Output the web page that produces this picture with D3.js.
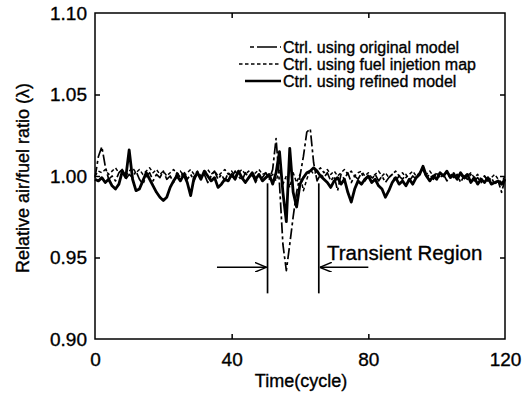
<!DOCTYPE html>
<html>
<head>
<meta charset="utf-8">
<script src="https://cdn.jsdelivr.net/npm/d3@7"></script>
<style>
  body { margin: 0; background: #fff; }
  svg { display: block; font-family: "Liberation Sans", Arial, sans-serif; }
  text { stroke: #000; stroke-width: 0.35; }
</style>
</head>
<body>
<svg id="chart" width="523" height="398"></svg>
<script>
// lambda per engine cycle, 0..120
const refined = [
  0.998, 0.997, 0.999, 0.996, 0.998, 0.994, 0.992, 0.995, 1.003, 0.999,
  1.016, 0.998, 0.991, 0.992, 0.997, 1.002, 0.998, 0.994, 0.990, 0.987,
  0.985, 0.987, 0.993, 0.997, 1.000, 0.997, 1.001, 0.996, 0.988, 0.999,
  1.002, 0.998, 1.003, 1.000, 0.997, 0.999, 0.993, 0.995, 0.998, 0.997,
  1.001, 0.998, 1.003, 0.999, 0.996, 0.999, 1.002, 0.998, 1.001, 0.997,
  0.999, 1.001, 0.995, 1.002, 1.015, 0.990, 0.972, 1.017, 0.990, 0.981,
  0.995, 0.999, 1.002, 1.003, 1.005, 1.003, 1.000, 0.998, 0.996, 0.993,
  0.997, 0.999, 0.995, 0.998, 0.990, 0.984, 0.992, 0.997, 0.995, 0.998,
  1.000, 0.996, 0.998, 0.994, 0.992, 0.987, 0.991, 0.996, 0.999, 0.995,
  0.997, 0.994, 0.998, 0.995, 0.999, 1.001, 1.006, 1.000, 0.997, 1.000,
  0.998, 1.002, 1.000, 1.003, 0.999, 1.001, 0.998, 1.002, 0.999, 1.001,
  0.996, 0.999, 0.995, 0.998, 0.996, 0.999, 0.995, 0.996, 0.997, 0.995,
  0.998
];
const original = [
  0.999, 1.012, 1.018, 1.006, 0.998, 1.000, 0.997, 1.002, 1.004, 0.998,
  1.001, 0.999, 1.003, 0.998, 0.995, 1.000, 1.002, 0.997, 1.001, 0.999,
  1.003, 0.998, 1.000, 0.996, 1.002, 0.999, 1.003, 0.998, 1.001, 0.997,
  1.002, 0.999, 1.001, 0.996, 1.000, 1.003, 0.998, 1.001, 0.997, 1.002,
  0.999, 1.003, 1.000, 0.997, 1.002, 0.999, 1.001, 0.996, 1.001, 0.999,
  1.002, 0.998, 1.004, 1.023, 0.995, 0.958, 0.942, 0.958, 0.975, 0.990,
  1.000, 1.012, 1.027, 1.029, 1.008, 0.997, 1.001, 0.999, 1.002, 0.997,
  1.000, 0.991, 1.001, 0.998, 1.002, 0.996, 1.000, 0.998, 1.002, 0.997,
  1.000, 0.998, 1.001, 0.997, 1.000, 0.996, 0.999, 1.001, 0.997, 1.000,
  0.998, 1.001, 0.997, 1.000, 0.998, 1.002, 1.004, 0.999, 1.001, 0.998,
  1.002, 0.999, 1.001, 0.997, 1.002, 0.999, 1.001, 0.996, 1.000, 0.998,
  1.001, 0.997, 0.999, 0.996, 1.000, 0.997, 0.999, 0.995, 0.997, 0.990,
  0.998
];
const fuelMap = [
  1.000, 1.003, 1.002, 1.004, 1.001, 1.003, 1.005, 1.002, 1.004, 1.000,
  1.003, 1.005, 1.002, 1.004, 1.001, 1.003, 1.005, 1.002, 1.004, 1.001,
  1.003, 1.000, 1.002, 1.004, 1.001, 1.003, 1.000, 1.002, 1.004, 1.001,
  1.003, 1.000, 1.002, 1.004, 1.001, 1.003, 1.000, 1.002, 1.004, 1.001,
  1.003, 1.000, 1.002, 1.004, 1.001, 1.003, 1.000, 1.002, 1.004, 1.001,
  1.002, 0.999, 1.001, 0.997, 1.004, 0.995, 1.000, 0.993, 1.002, 0.996,
  1.001, 0.991, 0.998, 1.004, 1.001, 1.003, 1.005, 1.002, 1.004, 1.001,
  1.003, 1.000, 1.002, 1.004, 1.001, 1.003, 1.000, 1.002, 1.003, 1.000,
  1.002, 0.999, 1.001, 1.003, 1.000, 1.002, 0.999, 1.001, 1.003, 1.000,
  1.002, 0.999, 1.001, 1.003, 1.000, 1.002, 1.004, 1.001, 1.003, 1.000,
  1.002, 0.999, 1.001, 1.003, 1.000, 1.002, 0.999, 1.001, 0.998, 1.000,
  1.002, 0.999, 1.001, 0.998, 1.000, 0.997, 0.999, 1.001, 0.998, 0.996,
  1.000
];

const xTicks = [0, 40, 80, 120];
const yTicks = [0.90, 0.95, 1.00, 1.05, 1.10];
const legendLabels = [
  'Ctrl. using original model',
  'Ctrl. using fuel injetion map',
  'Ctrl. using refined model'
];
// transient window: boundary cycles, line extent and arrow level
const transientBounds = [50.5, 65.5];
const transientSpan = [0.9955, 0.928];
const arrowLevel = 0.944;
const arrowTails = [35.7, 80];

const width = 523, height = 398;
const margin = {top: 13, right: 18, bottom: 59, left: 95};

const svg = d3.select('#chart');

const x = d3.scaleLinear()
  .domain([0, 120])
  .range([margin.left, width - margin.right]);

const y = d3.scaleLinear()
  .domain([0.90, 1.10])
  .range([height - margin.bottom, margin.top]);

const series = [
  {values: original, dash: '11,3,3,3', w: 1.7},
  {values: fuelMap, dash: '3.5,2.5', w: 1.5},
  {values: refined, dash: null, w: 2.8}
];

const line = d3.line()
  .x((d, i) => x(i))
  .y(d => y(d));

const plot = svg.append('g');

plot.selectAll('path.series')
  .data(series)
  .enter()
  .append('path')
  .attr('class', 'series')
  .attr('fill', 'none')
  .attr('stroke', '#000')
  .attr('stroke-width', d => d.w)
  .attr('stroke-dasharray', d => d.dash)
  .attr('stroke-linejoin', 'round')
  .attr('d', d => line(d.values));

// frame
svg.append('rect')
  .attr('x', x(0))
  .attr('y', y(1.10))
  .attr('width', x(120) - x(0))
  .attr('height', y(0.90) - y(1.10))
  .attr('fill', 'none')
  .attr('stroke', '#000')
  .attr('stroke-width', 1.5);

// inward tick marks on all four sides
const innerX = [40, 80];
const innerY = [0.95, 1.00, 1.05];
const tickLen = 5;
function marks(g) {
  g.selectAll('.domain').remove();
  g.selectAll('line').attr('stroke-width', 1.5);
}
svg.append('g')
  .attr('transform', `translate(0,${y(0.90)})`)
  .call(d3.axisBottom(x).tickValues(innerX).tickSize(-tickLen).tickFormat(''))
  .call(marks);
svg.append('g')
  .attr('transform', `translate(0,${y(1.10)})`)
  .call(d3.axisTop(x).tickValues(innerX).tickSize(-tickLen).tickFormat(''))
  .call(marks);
svg.append('g')
  .attr('transform', `translate(${x(0)},0)`)
  .call(d3.axisLeft(y).tickValues(innerY).tickSize(-tickLen).tickFormat(''))
  .call(marks);
svg.append('g')
  .attr('transform', `translate(${x(120)},0)`)
  .call(d3.axisRight(y).tickValues(innerY).tickSize(-tickLen).tickFormat(''))
  .call(marks);

// tick labels
svg.append('g')
  .attr('transform', `translate(0,${y(0.90)})`)
  .call(d3.axisBottom(x).tickValues(xTicks).tickSize(0).tickPadding(14).tickFormat(d3.format('d')))
  .call(g => g.select('.domain').remove())
  .call(g => g.selectAll('text').attr('font-size', 19).attr('font-family', null).attr('fill', '#000'));
svg.append('g')
  .attr('transform', `translate(${x(0)},0)`)
  .call(d3.axisLeft(y).tickValues(yTicks).tickSize(0).tickPadding(8).tickFormat(d3.format('.2f')))
  .call(g => g.select('.domain').remove())
  .call(g => g.selectAll('text').attr('font-size', 19).attr('font-family', null).attr('fill', '#000'));

// axis titles
svg.append('text')
  .attr('x', 301)
  .attr('y', 387)
  .attr('text-anchor', 'middle')
  .attr('font-size', 18)
  .text('Time(cycle)');
svg.append('text')
  .attr('transform', `translate(29,${(y(0.9) + y(1.1)) / 2 + 2}) rotate(-90)`)
  .attr('text-anchor', 'middle')
  .attr('font-size', 18)
  .text('Relative air/fuel ratio (\u03bb)');

// legend
const legend = svg.append('g').attr('transform', 'translate(281,47)');
const legendDash = ['4,3,16,0', '3.5,2.5', null];
const legendStart = [-31, -42, -36];
legendLabels.forEach((label, i) => {
  const row = legend.append('g').attr('transform', `translate(0,${i * 17})`);
  row.append('line')
    .attr('x1', legendStart[i]).attr('x2', 0)
    .attr('y1', 0).attr('y2', 0)
    .attr('stroke', '#000')
    .attr('stroke-width', i === 2 ? 2.4 : 1.5)
    .attr('stroke-dasharray', legendDash[i]);
  row.append('text')
    .attr('x', 2)
    .attr('y', 5.5)
    .attr('font-size', 16)
    .text(label);
});

// transient region annotation
svg.append('defs').append('marker')
  .attr('id', 'head')
  .attr('viewBox', '0 0 12 10')
  .attr('refX', 12).attr('refY', 5)
  .attr('markerWidth', 12).attr('markerHeight', 10)
  .attr('markerUnits', 'userSpaceOnUse')
  .attr('orient', 'auto')
  .append('path')
  .attr('d', 'M0,0 L12,5 L0,10')
  .attr('fill', 'none')
  .attr('stroke', '#000')
  .attr('stroke-width', 1.4);

const ann = svg.append('g').attr('stroke', '#000').attr('stroke-width', 1.7);
ann.selectAll('line.bound')
  .data(transientBounds)
  .enter()
  .append('line')
  .attr('class', 'bound')
  .attr('x1', d => x(d)).attr('x2', d => x(d))
  .attr('y1', y(transientSpan[0])).attr('y2', y(transientSpan[1]));
ann.selectAll('line.arrow')
  .data(arrowTails)
  .enter()
  .append('line')
  .attr('class', 'arrow')
  .attr('stroke-width', 1.4)
  .attr('x1', d => x(d))
  .attr('x2', (d, i) => x(transientBounds[i]) + (i === 0 ? -1 : 1))
  .attr('y1', y(arrowLevel)).attr('y2', y(arrowLevel))
  .attr('marker-end', 'url(#head)');

svg.append('text')
  .attr('x', 327)
  .attr('y', 260)
  .attr('font-size', 20.5)
  .text('Transient Region');
</script>
</body>
</html>
